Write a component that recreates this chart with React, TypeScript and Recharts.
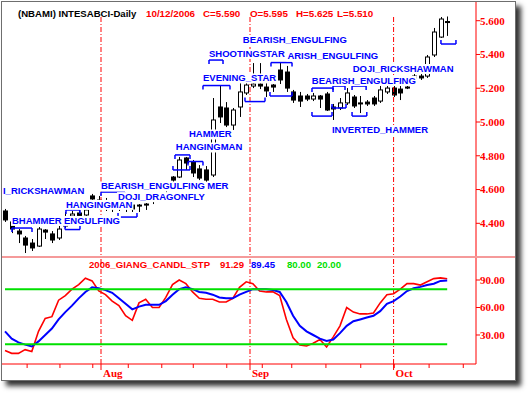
import React from 'react';
import { ComposedChart, Bar, Line, XAxis, YAxis, ReferenceLine, ReferenceDot } from 'recharts';

// ---------- data ----------
const dates = ['07/11','07/12','07/13','07/14','07/17','07/18','07/19','07/20','07/21','07/24','07/25','07/26','07/27','07/28','07/31','08/01','08/02','08/03','08/04','08/07','08/08','08/09','08/10','08/11','08/14','08/16','08/17','08/18','08/21','08/22','08/23','08/24','08/25','08/28','08/29','08/30','08/31','09/01','09/04','09/05','09/06','09/07','09/08','09/11','09/12','09/13','09/14','09/15','09/18','09/19','09/20','09/21','09/22','09/25','09/26','09/27','09/28','09/29','10/02','10/03','10/04','10/05','10/06','10/09','10/10','10/11','10/12'];
const open = [4.473,4.408,4.354,4.313,4.283,4.265,4.360,4.337,4.313,4.384,4.443,4.461,4.449,4.562,4.538,4.526,4.508,4.520,4.514,4.508,4.508,4.514,4.538,4.550,4.609,4.674,4.674,4.787,4.763,4.722,4.716,4.686,5.089,5.083,4.982,5.089,5.172,5.213,5.225,5.207,5.219,5.308,5.296,5.178,5.154,5.154,5.136,5.154,5.166,5.089,5.083,5.113,5.148,5.113,5.118,5.142,5.124,5.178,5.201,5.195,5.207,5.272,5.272,5.272,5.397,5.503,5.595];
const high = [4.485,4.425,4.366,4.325,4.307,4.378,4.366,4.354,4.384,4.467,4.473,4.479,4.508,4.574,4.562,4.550,4.538,4.544,4.544,4.520,4.514,4.520,4.550,4.562,4.627,4.680,4.793,4.793,4.775,4.745,4.739,5.142,5.219,5.118,5.083,5.231,5.231,5.349,5.349,5.237,5.225,5.355,5.332,5.190,5.178,5.166,5.172,5.160,5.178,5.107,5.142,5.201,5.160,5.154,5.130,5.154,5.219,5.213,5.213,5.213,5.213,5.284,5.284,5.397,5.557,5.622,5.625];
const low = [4.408,4.342,4.283,4.224,4.236,4.260,4.307,4.283,4.301,4.372,4.414,4.408,4.431,4.502,4.479,4.473,4.467,4.473,4.467,4.467,4.467,4.479,4.514,4.526,4.574,4.639,4.668,4.716,4.674,4.656,4.645,4.674,4.994,4.970,4.953,5.030,5.160,5.201,5.195,5.148,5.178,5.225,5.178,5.113,5.089,5.124,5.124,5.083,5.065,5.012,5.071,5.101,5.083,5.053,5.095,5.095,5.113,5.166,5.148,5.130,5.195,5.249,5.249,5.261,5.385,5.498,5.510];
const close = [4.420,4.366,4.337,4.271,4.254,4.366,4.348,4.301,4.366,4.431,4.455,4.443,4.479,4.544,4.514,4.508,4.520,4.502,4.502,4.485,4.502,4.508,4.532,4.544,4.621,4.656,4.775,4.757,4.698,4.668,4.656,5.012,5.030,4.982,5.071,5.178,5.219,5.225,5.213,5.184,5.207,5.249,5.201,5.130,5.124,5.136,5.154,5.136,5.071,5.077,5.113,5.172,5.095,5.107,5.107,5.107,5.190,5.201,5.160,5.172,5.201,5.261,5.261,5.385,5.533,5.610,5.590];
const stp = [13,10,10,14,12,34,48,50,68,73,80,85,92,89,78,74,67,62,51,46,65,69,60,60,71,85,90,86,77,70,69,69,66,66,70,82,88,86,78,77,77,73,47,27,19,18,21,25,17,28,40,60,55,53,53,54,65,74,75,80,86,86,84.5,88,91.5,92.3,91.29];
const sig = [34,26,22,19.5,17.5,23,30,37,47,55,62,70,77,82,81,79,76,70,64,58,61,63,63,63,67,74,80,82,80,77,76,74,71,70,70,74,77,80,80,80,79,77,66,51,40,34,30,26,23.5,25,32,40,45,47,49,51,56,64,67,72,78,81,82.5,84.5,86,89,89.45];

const priceTicks = [4.4, 4.6, 4.8, 5.0, 5.2, 5.4, 5.6];
const oscTicks = [30, 60, 90];
const levels = [80, 20];
const weekTicks = [3.3, 8.2, 13.1, 18.4, 23.4, 28.1, 33.1, 38.4, 42.8, 47.9, 53.1, 58.1, 63.3, 68.4];
const monthPos = [14.33, 36.57, 58];
const monthNames = ['Aug', 'Sep', 'Oct'];

// pattern labels (visible parts, as printed on the chart)
const patternNames = ['BEARISH_ENGULFING','ARISH_ENGULFING','SHOOTINGSTAR','EVENING_STAR','DOJI_RICKSHAWMAN','BEARISH_ENGULFING','INVERTED_HAMMER','HAMMER','HANGINGMAN','MER','BEARISH_ENGULFING','DOJI_DRAGONFLY','I_RICKSHAWMAN','HANGINGMAN','BHAMMER','ENGULFING'];
const patternBar = [35.5, 42.15, 30.45, 29.55, 51.9, 45.8, 48.8, 27.46, 25.5, 30.2, 14.33, 16.87, -0.3, 9.1, 1.04, 8.8];
const patternPrice = [5.486, 5.391, 5.406, 5.261, 5.317, 5.246, 4.953, 4.929, 4.852, 4.621, 4.621, 4.558, 4.597, 4.512, 4.417, 4.417];

// pattern brackets
const bracketFrom = [30.45, 29.55, 39.7, 39.55, 35.82, 45.82, 48.96, 51.8, 45.82, 48.81, 51.8, 25.37, 27.31, 25.07, 9.1, 14.33, 16.87, 1.04, 8.96, 65.07];
const bracketTo = [32.54, 33.58, 42.84, 42.84, 38.81, 48.96, 50.75, 53.9, 48.81, 50.9, 54.0, 27.61, 29.55, 27.61, 11.19, 17.91, 19.7, 4.03, 11.19, 67.31];
const bracketPrice = [5.367, 5.216, 5.352, 5.154, 5.121, 5.201, 5.213, 5.213, 5.035, 5.083, 5.035, 4.805, 4.766, 4.716, 4.479, 4.585, 4.437, 4.372, 4.363, 5.462];
const bracketEnd = [-1, -1, -1, 1, 1, -1, -1, -1, 1, 1, 1, -1, -1, 1, -1, -1, 1, -1, 1, 1];

const rows = dates.map((d, i) => ({
  i, date: d, o: open[i], h: high[i], l: low[i], c: close[i],
  range: [low[i], high[i]], stp: stp[i], sig: sig[i],
}));

// ---------- style ----------
const SANS = "'Liberation Sans', Arial, sans-serif";
const SERIF = "'Liberation Serif', 'Times New Roman', serif";
const RED = '#ff0000';
const BLUE = '#0000ff';
const GREEN = '#00e000';
const X_DOMAIN: [number, number] = [-0.448, 70.3];
const P_DOMAIN: [number, number] = [4.2004, 5.7108];
const O_DOMAIN: [number, number] = [-1.64, 115.1];
const DASH = '5 2 1 2';

let ctx: any = null;
function textWidth(s: string, font: string) {
  if (!ctx) ctx = document.createElement('canvas').getContext('2d');
  ctx.font = font;
  return ctx.measureText(s).width;
}

const Candle = (props: any) => {
  const { x, y, width, height, payload } = props;
  if (!payload) return null;
  const { o, h, l, c } = payload;
  const top = Math.min(y, y + height);
  const hh = Math.abs(height);
  const cx = Math.round(x + width / 2) + 0.5;
  const k = hh / (h - l);
  const py = (v: number) => top + (h - v) * k;
  const bt = py(Math.max(o, c));
  const bb = py(Math.min(o, c));
  const up = c >= o;
  return (
    <g>
      <line x1={cx} x2={cx} y1={top} y2={top + hh} stroke="#000" strokeWidth={1} />
      <rect x={cx - 2} y={bt} width={4} height={Math.max(bb - bt, 1)} fill={up ? '#fff' : '#000'} stroke="#000" strokeWidth={1} />
    </g>
  );
};

const PatternLabel = ({ cx, cy, text }: any) => {
  const w = textWidth(text, `bold 9.5px ${SANS}`);
  return (
    <g>
      <rect x={cx - 1} y={cy - 4.5} width={w + 2} height={10} fill="#fff" />
      <text x={cx} y={cy + 3.5} fill={BLUE} fontSize={9.5} fontWeight="bold" fontFamily={SANS}>{text}</text>
    </g>
  );
};

const XTick = (props: any) => {
  const { x, y, payload } = props;
  const mi = monthPos.indexOf(payload.value);
  return (
    <g>
      <line x1={x} x2={x} y1={y} y2={y + (mi >= 0 ? 6 : 4)} stroke={RED} strokeWidth={1} />
      {mi >= 0 && (
        <text x={x + 2} y={y + 13} fill={RED} fontSize={11} fontWeight="bold" fontFamily={SERIF}>{monthNames[mi]}</text>
      )}
    </g>
  );
};

const allTicks = [...weekTicks, ...monthPos].sort((a, b) => a - b);
const END = 0.0237;

export default function App() {
  return (
    <div style={{ position: 'fixed', left: 0, top: 0, width: 528, height: 393, background: '#fff', overflow: 'hidden' }}>
      <div style={{ position: 'absolute', left: 1, top: 1, width: 513, height: 378, border: '1px solid #6e6e6e', background: '#fff', boxShadow: '5px 5px 5px rgba(0,0,0,0.8)' }} />

      {/* price panel */}
      <div style={{ position: 'absolute', left: 2, top: 2 }}>
        <ComposedChart width={510} height={255} data={rows} margin={{ top: 0, right: 0, bottom: 0, left: 0 }}>
          <XAxis dataKey="i" type="number" domain={X_DOMAIN} hide allowDataOverflow />
          <YAxis orientation="right" type="number" domain={P_DOMAIN} ticks={priceTicks} width={36} allowDataOverflow interval={0}
            axisLine={{ stroke: RED }} tickLine={{ stroke: RED }} tickSize={4} tickMargin={0}
            tick={{ fill: RED, fontSize: 11, fontWeight: 'bold', fontFamily: SERIF }} tickFormatter={(v: number) => v.toFixed(3)} />
          {monthPos.map((m) => (
            <ReferenceLine key={'m' + m} segment={[{ x: m, y: 5.622 }, { x: m, y: P_DOMAIN[0] }]} stroke={RED} strokeDasharray={DASH} />
          ))}
          <Bar dataKey="range" barSize={5} isAnimationActive={false} shape={(p: any) => <Candle {...p} />} />
        </ComposedChart>
      </div>

      {/* pattern overlay */}
      <div style={{ position: 'absolute', left: 2, top: 2 }}>
        <ComposedChart width={510} height={255} data={rows} margin={{ top: 0, right: 36, bottom: 0, left: 0 }}>
          <XAxis dataKey="i" type="number" domain={X_DOMAIN} hide allowDataOverflow />
          <YAxis type="number" domain={P_DOMAIN} hide allowDataOverflow />
          {bracketFrom.map((f, k) => (
            <ReferenceLine key={'bh' + k} segment={[{ x: f, y: bracketPrice[k] }, { x: bracketTo[k], y: bracketPrice[k] }]} stroke={BLUE} strokeWidth={1.5} />
          ))}
          {bracketFrom.map((f, k) => (
            <ReferenceLine key={'bl' + k} segment={[{ x: f, y: bracketPrice[k] }, { x: f, y: bracketPrice[k] + bracketEnd[k] * END }]} stroke={BLUE} strokeWidth={1.5} />
          ))}
          {bracketTo.map((t, k) => (
            <ReferenceLine key={'br' + k} segment={[{ x: t, y: bracketPrice[k] }, { x: t, y: bracketPrice[k] + bracketEnd[k] * END }]} stroke={BLUE} strokeWidth={1.5} />
          ))}
          {patternNames.map((n, k) => (
            <ReferenceDot key={'p' + k} x={patternBar[k]} y={patternPrice[k]} r={1}
              shape={(p: any) => <PatternLabel cx={p.cx} cy={p.cy} text={n} />} />
          ))}
        </ComposedChart>
      </div>

      {/* oscillator panel */}
      <div style={{ position: 'absolute', left: 2, top: 257 }}>
        <ComposedChart width={510} height={123} data={rows} margin={{ top: 0, right: 0, bottom: 0, left: 0 }}>
          <XAxis dataKey="i" type="number" domain={X_DOMAIN} allowDataOverflow ticks={allTicks} interval={0} height={16}
            axisLine={{ stroke: RED }} tickLine={false} tickSize={0} tickMargin={0} tick={<XTick />} />
          <YAxis orientation="right" type="number" domain={O_DOMAIN} ticks={oscTicks} width={36} allowDataOverflow interval={0}
            axisLine={{ stroke: RED }} tickLine={{ stroke: RED }} tickSize={4} tickMargin={0}
            tick={{ fill: RED, fontSize: 11, fontWeight: 'bold', fontFamily: SERIF }} tickFormatter={(v: number) => v.toFixed(2)} />
          {monthPos.map((m) => (
            <ReferenceLine key={'om' + m} x={m} stroke={RED} strokeDasharray={DASH} />
          ))}
          <Line dataKey="stp" stroke={RED} strokeWidth={1.6} dot={false} isAnimationActive={false} />
          <Line dataKey="sig" stroke={BLUE} strokeWidth={2} dot={false} isAnimationActive={false} />
          {levels.map((v) => (
            <ReferenceLine key={'lv' + v} segment={[{ x: 0, y: v }, { x: rows.length - 1, y: v }]} stroke={GREEN} strokeWidth={2} />
          ))}
        </ComposedChart>
      </div>

      <div style={{ position: 'absolute', left: 2, top: 256, width: 513, height: 2, background: '#f59a9a' }} />

      <svg width={528} height={393} style={{ position: 'absolute', left: 0, top: 0, pointerEvents: 'none' }}>
        <text x={18} y={16.5} fontSize={9.6} fontWeight="bold" fontFamily={SANS} fill="#000">(NBAMI) INTESABCI-Daily</text>
        <g fontSize={9.8} fontWeight="bold" fontFamily={SANS} fill={RED}>
          <text x={146} y={16.5}>10/12/2006</text>
          <text x={203} y={16.5}>C=5.590</text>
          <text x={250} y={16.5}>O=5.595</text>
          <text x={296} y={16.5}>H=5.625</text>
          <text x={337} y={16.5}>L=5.510</text>
        </g>
        <g fontSize={9.6} fontWeight="bold" fontFamily={SANS}>
          <text x={89} y={267.5} fill={RED}>2006_GIANG_CANDL_STP</text>
          <text x={220} y={267.5} fill={RED}>91.29</text>
          <text x={251} y={267.5} fill={BLUE}>89.45</text>
          <text x={287} y={267.5} fill={GREEN}>80.00</text>
          <text x={317} y={267.5} fill={GREEN}>20.00</text>
        </g>
      </svg>
    </div>
  );
}
